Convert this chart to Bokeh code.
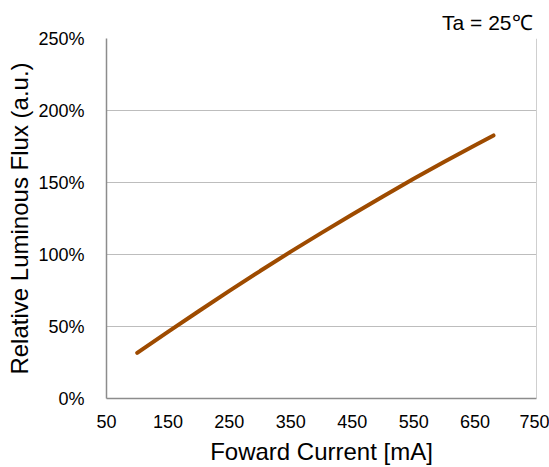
from bokeh.plotting import figure
from bokeh.models import FixedTicker, PrintfTickFormatter, Span, Title, Range1d
from bokeh.embed import file_html
from bokeh.resources import INLINE

# Data
current_mA = [100, 150, 200, 250, 300, 350, 400, 450, 500, 550, 600, 650, 680]
relative_flux_pct = [31.7, 46.3, 60.6, 74.7, 88.5, 102.0, 115.0, 127.8, 140.3, 152.6, 164.4, 175.9, 182.7]

x_ticks = [50, 150, 250, 350, 450, 550, 650, 750]
y_ticks = [0, 50, 100, 150, 200, 250]

FONT = "Liberation Sans"

p = figure(width=549, height=467, output_backend="svg", toolbar_location=None,
           x_range=Range1d(50, 750), y_range=Range1d(0, 250),
           min_border_left=106, min_border_right=13, min_border_top=38, min_border_bottom=69)

p.line(current_mA, relative_flux_pct, line_color="#9E4B00", line_width=4, line_cap="round")

# Axes
for ax in (p.xaxis, p.yaxis):
    ax.axis_line_color = "#8c8c8c"
    ax.axis_line_width = 1.5
    ax.major_tick_line_color = None
    ax.minor_tick_line_color = None
    ax.major_label_text_font = FONT
    ax.major_label_text_font_size = "18px"
    ax.major_label_text_color = "#000000"
    ax.axis_label_text_font = FONT
    ax.axis_label_text_font_size = "24px"
    ax.axis_label_text_font_style = "normal"
    ax.axis_label_text_color = "#000000"

p.xaxis.ticker = FixedTicker(ticks=x_ticks)
p.yaxis.ticker = FixedTicker(ticks=y_ticks)
p.yaxis.formatter = PrintfTickFormatter(format="%d%%")
p.xaxis.axis_label = "Foward Current [mA]"
p.yaxis.axis_label = "Relative Luminous Flux (a.u.)"
p.xaxis.major_label_standoff = 10
p.yaxis.major_label_standoff = 16
p.xaxis.axis_label_standoff = 7
p.yaxis.axis_label_standoff = 2

# Grid
p.xgrid.grid_line_color = None
p.ygrid.ticker = FixedTicker(ticks=y_ticks)
p.ygrid.grid_line_color = "#7a7a7a"
p.ygrid.grid_line_dash = "1 1"
p.ygrid.grid_line_width = 1

p.outline_line_color = None
p.add_layout(Span(location=750, dimension="height", line_color="#a0a0a0", line_width=1))

p.add_layout(Title(text="Ta = 25\u2103", align="right", text_font=FONT, text_font_size="21px",
                   text_font_style="normal", text_color="#000000", offset=4, standoff=10), "above")

p.background_fill_color = "white"
p.border_fill_color = "white"

open("out.html", "w").write(file_html(p, INLINE))
